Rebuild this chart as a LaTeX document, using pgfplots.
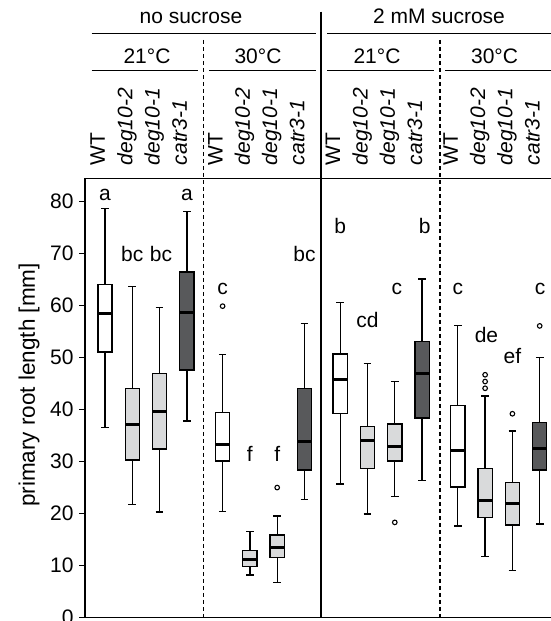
\documentclass[border=0pt]{standalone}
\usepackage{fontspec}
\setmainfont{Liberation Sans}
\usepackage{pgfplots}
\pgfplotsset{compat=1.18}
\usepgfplotslibrary{statistics}

\definecolor{lightbox}{RGB}{217,218,219}
\definecolor{darkbox}{RGB}{88,89,91}
\newcommand{\hf}{\fontsize{21}{25}\selectfont}

% #1 fill, #2 position, #3-#7 lower whisker .. upper whisker
\newcommand{\bplot}[7]{%
  \addplot[mark=o, mark size=2.3pt, mark options={black, line width=1.1pt},
    boxplot/draw direction=y,
    boxplot/every box/.style={draw=black, fill=#1, line width=1.3pt},
    boxplot prepared={draw position=#2, lower whisker=#3, lower quartile=#4,
      median=#5, upper quartile=#6, upper whisker=#7}]}

\begin{document}
\begin{tikzpicture}
\begin{axis}[
    at={(85pt,3.5pt)}, anchor=south west,
    scale only axis, width=466pt, height=439.2pt,
    xmin=-0.7326, xmax=16.3443, ymin=0, ymax=84.5,
    axis lines=left, axis line style={-, line width=1.3pt},
    xtick=\empty,
    ytick={0,10,...,80},
    tick align=outside, major tick length=6pt,
    tick style={black, line width=1.2pt},
    /pgf/number format/assume math mode=true,
    yticklabel style={font=\fontsize{21}{25}\selectfont, xshift=-2pt},
    boxplot/draw direction=y,
    boxplot/box extend=0.52,
    boxplot/whisker extend=0.28,
    boxplot/every whisker/.style={black, line width=1.3pt},
    boxplot/every median/.style={black, line width=3pt},
    clip=false,
]
% no sucrose, 21 C
\bplot{white}{0}{36.5}{51.1}{58.5}{64.0}{78.7} coordinates {};
\bplot{lightbox}{1}{21.7}{30.3}{37.2}{44.0}{63.7} coordinates {};
\bplot{lightbox}{2}{20.3}{32.4}{39.7}{46.9}{59.6} coordinates {};
\bplot{darkbox}{3}{37.8}{47.6}{58.7}{66.5}{78.1} coordinates {};
% no sucrose, 30 C
\bplot{white}{4.31}{20.4}{30.1}{33.2}{39.5}{50.6} table[row sep=\\, y index=0] {y\\ 59.9\\};
\bplot{lightbox}{5.31}{8.2}{9.8}{11.2}{12.9}{16.5} coordinates {};
\bplot{lightbox}{6.31}{6.8}{11.6}{13.5}{15.9}{19.5} table[row sep=\\, y index=0] {y\\ 25.0\\};
\bplot{darkbox}{7.31}{22.7}{28.4}{33.9}{44.1}{56.6} coordinates {};
% 2 mM sucrose, 21 C
\bplot{white}{8.62}{25.7}{39.2}{45.7}{50.7}{60.6} coordinates {};
\bplot{lightbox}{9.62}{19.9}{28.6}{34.0}{36.8}{48.9} coordinates {};
\bplot{lightbox}{10.62}{23.3}{30.1}{32.9}{37.2}{45.4} table[row sep=\\, y index=0] {y\\ 18.3\\};
\bplot{darkbox}{11.62}{26.4}{38.4}{47.0}{53.1}{65.1} coordinates {};
% 2 mM sucrose, 30 C
\bplot{white}{12.93}{17.6}{25.1}{32.1}{40.8}{56.2} coordinates {};
\bplot{lightbox}{13.93}{11.8}{19.2}{22.6}{28.6}{42.6} table[row sep=\\, y index=0] {y\\ 44.1\\ 45.4\\ 46.7\\};
\bplot{lightbox}{14.93}{9.1}{17.8}{21.9}{26.0}{35.9} table[row sep=\\, y index=0] {y\\ 39.2\\};
\bplot{darkbox}{15.93}{18.0}{28.4}{32.6}{37.5}{50.0} table[row sep=\\, y index=0] {y\\ 56.1\\};

% significance letters
\begin{scope}[every node/.style={anchor=base, font=\hf, inner sep=0pt}]
\node at (0,80.2) {a};
\node at (1,68.5) {bc};
\node at (2.05,68.5) {bc};
\node at (3,80.2) {a};
\node at (4.31,62.2) {c};
\node at (5.31,30.0) {f};
\node at (6.31,30.0) {f};
\node at (7.31,68.5) {bc};
\node at (8.62,73.8) {b};
\node at (9.62,55.8) {cd};
\node at (10.7,62.1) {c};
\node at (11.72,73.8) {b};
\node at (12.93,62.1) {c};
\node at (13.98,52.9) {de};
\node at (14.93,48.9) {ef};
\node at (15.95,62.1) {c};
\end{scope}

% genotype labels
\begin{scope}[every node/.style={anchor=base west, rotate=90, font=\hf, inner sep=0pt, xshift=3pt}]
\node at (0,86.43) {WT};
\node at (1,86.43) {\textit{deg10-2}};
\node at (2,86.43) {\textit{deg10-1}};
\node at (3,86.43) {\textit{catr3-1}};
\node at (4.31,86.43) {WT};
\node at (5.31,86.43) {\textit{deg10-2}};
\node at (6.31,86.43) {\textit{deg10-1}};
\node at (7.31,86.43) {\textit{catr3-1}};
\node at (8.62,86.43) {WT};
\node at (9.62,86.43) {\textit{deg10-2}};
\node at (10.62,86.43) {\textit{deg10-1}};
\node at (11.62,86.43) {\textit{catr3-1}};
\node at (12.93,86.43) {WT};
\node at (13.93,86.43) {\textit{deg10-2}};
\node at (14.93,86.43) {\textit{deg10-1}};
\node at (15.93,86.43) {\textit{catr3-1}};
\end{scope}
\end{axis}

% top frame line
\draw[line width=1.3pt] (85pt,442.7pt) -- (551pt,442.7pt);
% dividers
\draw[line width=1.5pt, dash pattern=on 4pt off 3pt] (203.3pt,581pt) -- (203.3pt,3.5pt);
\draw[line width=1.5pt, dash pattern=on 4pt off 3pt] (440pt,581pt) -- (440pt,3.5pt);
\draw[line width=1.4pt] (320.8pt,609.3pt) -- (320.8pt,3.5pt);
% header lines
\draw[line width=1.4pt] (91.7pt,587.7pt) -- (316pt,587.7pt);
\draw[line width=1.4pt] (327pt,587.7pt) -- (551pt,587.7pt);
\draw[line width=1.4pt] (91.7pt,550.3pt) -- (198.3pt,550.3pt);
\draw[line width=1.4pt] (209.3pt,550.3pt) -- (316pt,550.3pt);
\draw[line width=1.4pt] (327pt,550.3pt) -- (433.5pt,550.3pt);
\draw[line width=1.4pt] (445pt,550.3pt) -- (551pt,550.3pt);
% header text
\begin{scope}[every node/.style={anchor=base, font=\hf, inner sep=0pt}]
\node at (191pt,597pt) {no sucrose};
\node at (439pt,597pt) {2 mM sucrose};
\node at (147pt,557pt) {21°C};
\node at (258pt,557pt) {30°C};
\node at (377pt,557pt) {21°C};
\node at (494.6pt,557pt) {30°C};
\end{scope}
% y label
\node[rotate=90, font=\fontsize{22.5}{27}\selectfont, inner sep=0pt] at (29pt,236pt) {primary root length [mm]};

\pgfresetboundingbox
\useasboundingbox (0,0) rectangle (551pt,621pt);
\end{tikzpicture}
\end{document}
